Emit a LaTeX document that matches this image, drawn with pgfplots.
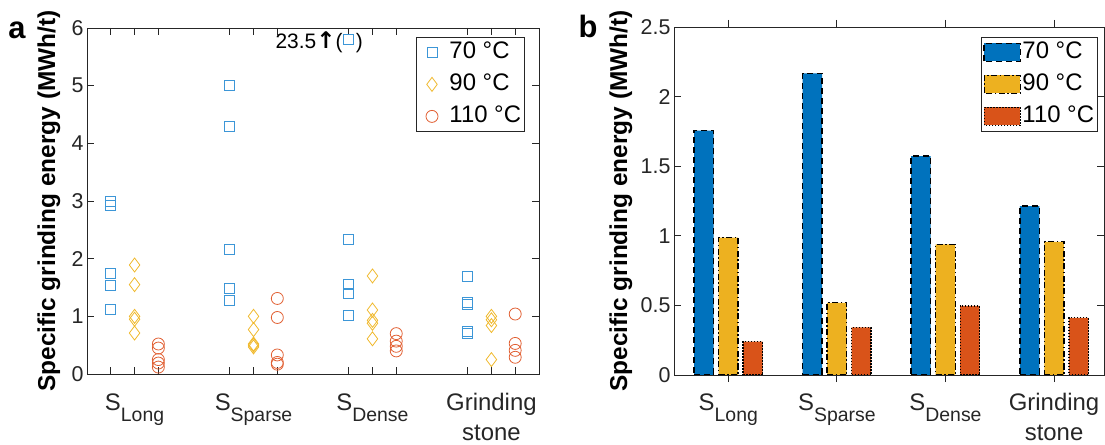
\documentclass[border=0pt]{standalone}
\usepackage{fontspec}
\setmainfont{Liberation Sans}
\newfontfamily\dejavu{DejaVu Sans}
\usepackage{pgfplots}
\pgfplotsset{compat=1.18}

\definecolor{axgray}{RGB}{38,38,38}
\definecolor{mblue}{RGB}{0,114,189}
\definecolor{myellow}{RGB}{237,177,32}
\definecolor{mred}{RGB}{217,83,25}
\definecolor{sblue}{RGB}{60,150,215}
\definecolor{syellow}{RGB}{240,185,45}
\definecolor{sred}{RGB}{225,95,50}

% MATLAB-like subscript
\newcommand{\sub}[1]{\raisebox{-11bp}{\fontsize{19.5}{20}\selectfont #1}}

\pgfplotsset{
  panel/.style={
    scale only axis,
    anchor=south west,
    axis line style={axgray, line width=0.8bp},
    tick style={axgray, line width=0.8bp},
    major tick length=7bp,
    tick align=inside,
    yticklabel style={font=\fontsize{21.5}{24}\selectfont, text=axgray,
      /pgf/number format/assume math mode=true},
    xticklabel style={font=\fontsize{24}{30}\selectfont, text=axgray,
      align=center, yshift=-8bp},
    legend style={draw=axgray, line width=0.8bp,
      font=\fontsize{24}{26}\selectfont, anchor=north east,
      inner xsep=2bp, inner ysep=2bp, row sep=6bp,
      nodes={inner xsep=1.5bp, inner ysep=2bp, text height=17bp, text depth=5bp}},
    legend cell align=left,
  },
  mk/.style={only marks, line width=0.8bp,
    legend image code/.code={
      \path[draw=none, fill=none] (0bp,0bp) -- (30bp,0bp);
      \draw[##1, only marks, mark repeat=1]
        plot coordinates {(14bp,0bp)};}},
  barleg/.style={legend image code/.code={
      \draw[##1] (0bp,-9bp) rectangle (36bp,9bp);}},
}

\begin{document}
\begin{tikzpicture}
\path[use as bounding box] (0,0) rectangle (1105bp,445bp);

% ---- panel a : individual measurements
\begin{axis}[panel,
  at={(87bp,71bp)}, width=452bp, height=346bp,
  xmin=0.6, xmax=4.4, ymin=0, ymax=6,
  ytick={0,1,2,3,4,5,6},
  xtick={0.8,1,1.2,1.8,2,2.2,2.8,3,3.2,3.8,4,4.2},
  xticklabels={,S\sub{Long},,,S\sub{Sparse},,,S\sub{Dense},,,{Grinding\\stone},},
  xticklabel style={yshift=-8bp},
  ylabel={Specific grinding energy (MWh/t)},
  every axis y label/.style={at={([xshift=-32bp]axis description cs:0,0.5)},
    rotate=90, anchor=base, font=\fontsize{24.5}{26}\selectfont\bfseries},
  legend style={at={(0.969,0.974)}},
]
\addplot[mk, color=sblue, mark=square, mark size=5bp,
  legend image code/.code={
    \path[draw=none, fill=none] (0bp,0bp) -- (30bp,0bp);
    \draw[draw=sblue, fill=none, solid, line width=0.9bp]
      (9bp,-5bp) rectangle (19bp,5bp);}] table {
x y
0.8 2.99
0.8 2.93
0.8 1.75
0.8 1.53
0.8 1.12
1.8 5.01
1.8 4.29
1.8 2.16
1.8 1.49
1.8 1.27
2.8 5.80
2.8 2.34
2.8 1.56
2.8 1.40
2.8 1.02
3.8 1.70
3.8 1.25
3.8 1.20
3.8 0.74
3.8 0.70
};
\addplot[mk, color=syellow, mark=diamond, mark size=7bp] table {
x y
1 1.89
1 1.55
1 1.00
1 0.95
1 0.71
2 1.00
2 0.77
2 0.52
2 0.47
2 0.50
3 1.70
3 1.11
3 0.93
3 0.88
3 0.61
4 1.00
4 0.94
4 0.84
4 0.25
};
\addplot[mk, color=sred, mark=o, mark size=6bp] table {
x y
1.2 0.52
1.2 0.45
1.2 0.25
1.2 0.19
1.2 0.12
2.2 1.31
2.2 0.98
2.2 0.33
2.2 0.20
2.2 0.17
3.2 0.70
3.2 0.57
3.2 0.48
3.2 0.40
4.2 1.04
4.2 0.53
4.2 0.41
4.2 0.29
};
\legend{70 °C, 90 °C, 110 °C}
\node[anchor=base east, inner sep=0pt, font=\fontsize{21}{24}\selectfont,
  xshift=-6bp, yshift=-9bp] at (axis cs:2.8,5.8)
  {23.5{\dejavu\bfseries\fontsize{23}{24}\selectfont ↑}(};
\node[anchor=base west, inner sep=0pt, font=\fontsize{21}{24}\selectfont,
  xshift=7bp, yshift=-9bp] at (axis cs:2.8,5.8) {)};
\end{axis}

% ---- panel b : mean values
\begin{axis}[panel,
  at={(674bp,70bp)}, width=430bp, height=348bp,
  xmin=0.5, xmax=4.46, ymin=0, ymax=2.5,
  ytick={0,0.5,1,1.5,2,2.5},
  xtick={1,2,3,4},
  xticklabels={S\sub{Long},S\sub{Sparse},S\sub{Dense},{Grinding\\stone}},
  ylabel={Specific grinding energy (MWh/t)},
  every axis y label/.style={at={([xshift=-47bp]axis description cs:0,0.5)},
    rotate=90, anchor=base, font=\fontsize{24.5}{26}\selectfont\bfseries},
  ybar=5bp, bar width=19.5bp,
  legend style={at={(0.986,0.971)}},
]
\addplot[barleg, fill=mblue, draw=black, line width=1.5bp,
  dash pattern=on 6bp off 4bp] coordinates {
  (1,1.755) (2,2.166) (3,1.573) (4,1.213)};
\addplot[barleg, fill=myellow, draw=black, line width=1.4bp,
  dash pattern=on 6bp off 2.5bp on 1.5bp off 2.5bp] coordinates {
  (1,0.986) (2,0.519) (3,0.938) (4,0.957)};
\addplot[barleg, fill=mred, draw=black, line width=1.4bp,
  dash pattern=on 1.5bp off 1.5bp] coordinates {
  (1,0.239) (2,0.342) (3,0.497) (4,0.411)};
\legend{70 °C, 90 °C, 110 °C}
\end{axis}

\node[font=\fontsize{31}{32}\selectfont\bfseries] at (17bp,415bp) {a};
\node[font=\fontsize{31}{32}\selectfont\bfseries] at (588bp,419bp) {b};
\end{tikzpicture}
\end{document}
